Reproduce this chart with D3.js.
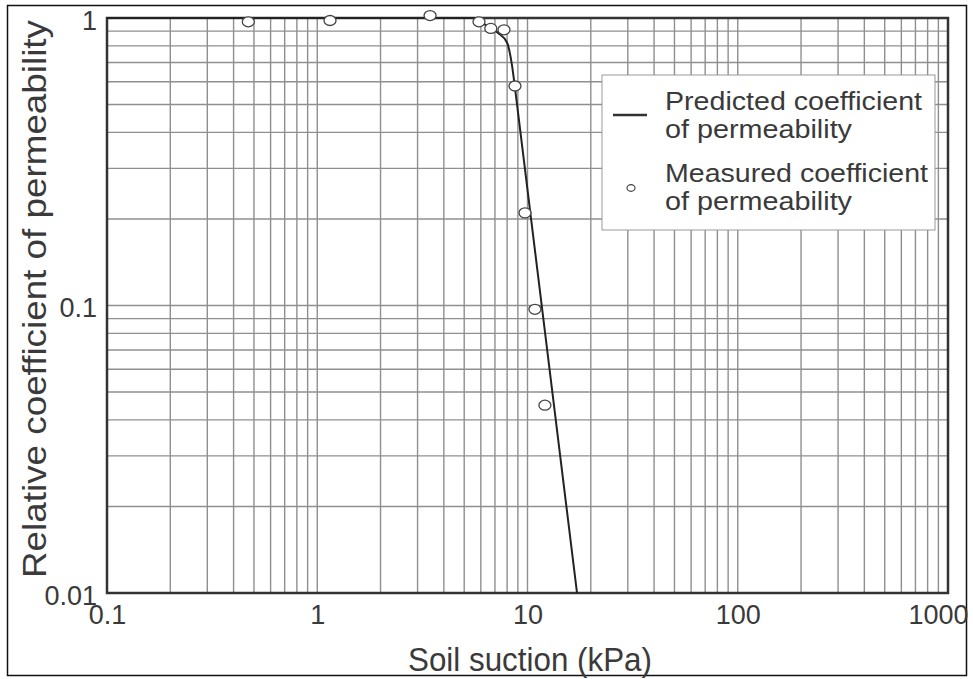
<!DOCTYPE html>
<html>
<head>
<meta charset="utf-8">
<script src="https://cdn.jsdelivr.net/npm/d3@7"></script>
<style>
  body { margin: 0; background: #fff; }
  text { font-family: "Liberation Sans", Arial, sans-serif; fill: #3a3a3a; }
</style>
</head>
<body>
<svg id="chart" width="973" height="679"></svg>
<script>
const width = 973, height = 679;
const margin = { left: 107, right: 25, top: 18, bottom: 86 };

// measured points (soil suction kPa, relative permeability)
const measuredSuction = [0.47, 1.15, 3.44, 5.88, 6.69, 7.73, 8.72, 9.73, 10.85, 12.1];
const measuredK = [0.97, 0.98, 1.02, 0.97, 0.92, 0.91, 0.58, 0.21, 0.097, 0.045];

// predicted curve
const predictedSuction = [0.1, 5.6, 6.1, 7.2, 8.0, 8.45, 8.75, 17.2];
const predictedK = [1, 1, 0.96, 0.89, 0.82, 0.68, 0.56, 0.01];

const xTicks = [0.1, 1, 10, 100, 1000];
const yTicks = [0.01, 0.1, 1];

const svg = d3.select("#chart");

const x = d3.scaleLog().domain([0.1, 1000]).range([margin.left, width - margin.right]);
const y = d3.scaleLog().domain([0.01, 1]).range([height - margin.bottom, margin.top]);

// outer border of the picture
svg.append("rect")
  .attr("x", 7.5).attr("y", 5.5)
  .attr("width", 959).attr("height", 670)
  .attr("fill", "none").attr("stroke", "#111").attr("stroke-width", 1.5);

// grid lines at every 1..9 of each decade
const xGrid = d3.range(-1, 3).flatMap(e => d3.range(1, 10).map(m => m * Math.pow(10, e))).concat([1000]);
const yGrid = d3.range(-2, 0).flatMap(e => d3.range(1, 10).map(m => m * Math.pow(10, e))).concat([1]);

svg.append("g")
  .selectAll("line")
  .data(xGrid)
  .enter().append("line")
  .attr("x1", d => x(d)).attr("x2", d => x(d))
  .attr("y1", y(1)).attr("y2", y(0.01))
  .attr("stroke", "#8f8f8f").attr("stroke-width", 1.4);

svg.append("g")
  .selectAll("line")
  .data(yGrid)
  .enter().append("line")
  .attr("x1", x(0.1)).attr("x2", x(1000))
  .attr("y1", d => y(d)).attr("y2", d => y(d))
  .attr("stroke", "#8f8f8f").attr("stroke-width", 1.4);

// frame
svg.append("rect")
  .attr("x", x(0.1)).attr("y", y(1))
  .attr("width", x(1000) - x(0.1)).attr("height", y(0.01) - y(1))
  .attr("fill", "none").attr("stroke", "#333").attr("stroke-width", 2.5);

// axes (labels only)
const fmt = d => d >= 1 ? d3.format("d")(d) : d3.format("")(d);
const xAxis = svg.append("g")
  .attr("transform", `translate(0,${y(0.01)})`)
  .call(d3.axisBottom(x).tickValues(xTicks).tickFormat(fmt).tickSize(0).tickPadding(31));
xAxis.select(".domain").remove();
xAxis.selectAll("text")
  .attr("font-size", 27).attr("dy", 0)
  .attr("font-family", "Liberation Sans, Arial, sans-serif").attr("fill", "#3a3a3a");
xAxis.selectAll(".tick").filter(d => d === 1000).select("text").attr("dx", -10);

const yAxis = svg.append("g")
  .attr("transform", `translate(${x(0.1)},0)`)
  .call(d3.axisLeft(y).tickValues(yTicks).tickFormat(fmt).tickSize(0).tickPadding(10));
yAxis.select(".domain").remove();
yAxis.selectAll("text")
  .attr("font-size", 27).attr("dy", "0.42em")
  .attr("font-family", "Liberation Sans, Arial, sans-serif").attr("fill", "#3a3a3a");

// predicted line
const predicted = predictedSuction.map((s, i) => [s, predictedK[i]]);
svg.append("path")
  .datum(predicted)
  .attr("fill", "none").attr("stroke", "#222").attr("stroke-width", 2)
  .attr("d", d3.line().x(d => x(d[0])).y(d => y(d[1])).curve(d3.curveMonotoneX));

// measured points
const measured = measuredSuction.map((s, i) => [s, measuredK[i]]);
svg.append("g")
  .selectAll("ellipse")
  .data(measured)
  .enter().append("ellipse")
  .attr("cx", d => x(d[0])).attr("cy", d => y(d[1]))
  .attr("rx", 6).attr("ry", 5)
  .attr("fill", "#fff").attr("stroke", "#444").attr("stroke-width", 1.3);

// axis titles
svg.append("text")
  .attr("x", 530).attr("y", 671)
  .attr("text-anchor", "middle").attr("font-size", 33)
  .attr("textLength", 244).attr("lengthAdjust", "spacingAndGlyphs")
  .text("Soil suction (kPa)");

svg.append("text")
  .attr("transform", "translate(46,299) rotate(-90)")
  .attr("text-anchor", "middle").attr("font-size", 33)
  .attr("textLength", 558).attr("lengthAdjust", "spacingAndGlyphs")
  .text("Relative coefficient of permeability");

// legend
const legend = svg.append("g");
legend.append("rect")
  .attr("x", 602).attr("y", 75).attr("width", 333).attr("height", 155)
  .attr("fill", "#fff").attr("stroke", "#999").attr("stroke-width", 1);
legend.append("line")
  .attr("x1", 613).attr("x2", 647).attr("y1", 115).attr("y2", 115)
  .attr("stroke", "#333").attr("stroke-width", 2.5);
legend.append("ellipse")
  .attr("cx", 631).attr("cy", 188).attr("rx", 4).attr("ry", 3.3)
  .attr("fill", "#fff").attr("stroke", "#444").attr("stroke-width", 1.2);

const legendLines = [
  { text: "Predicted coefficient", y: 110, len: 257 },
  { text: "of permeability", y: 138, len: 187 },
  { text: "Measured coefficient", y: 182, len: 263 },
  { text: "of permeability", y: 210, len: 187 }
];
legend.selectAll("text.item")
  .data(legendLines)
  .enter().append("text")
  .attr("class", "item")
  .attr("x", 665).attr("y", d => d.y)
  .attr("font-size", 26)
  .attr("textLength", d => d.len).attr("lengthAdjust", "spacingAndGlyphs")
  .text(d => d.text);
</script>
</body>
</html>
